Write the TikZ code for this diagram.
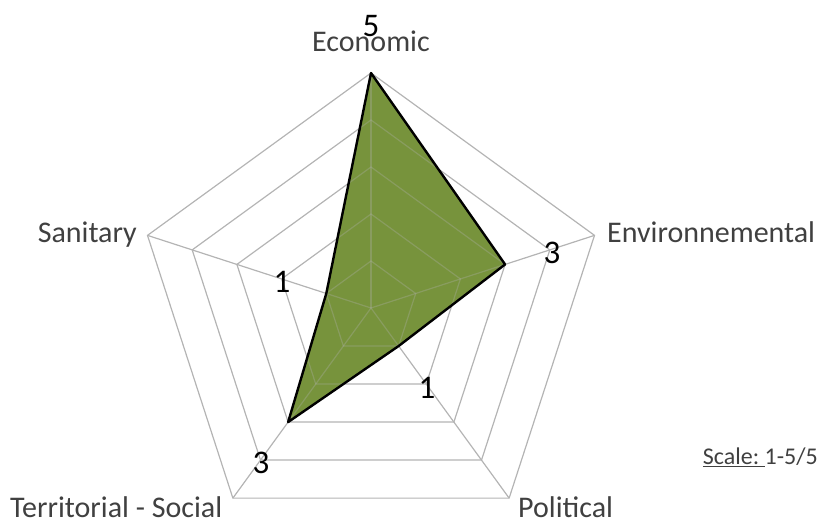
\documentclass[tikz,border=0pt]{standalone}
\usepackage{fontspec}
\setmainfont{Carlito}
\definecolor{gridgray}{HTML}{B4B4B4}
\definecolor{labelgray}{HTML}{404040}
\definecolor{olivefill}{HTML}{77933C}
\begin{document}
\begin{tikzpicture}[x=1pt,y=1pt,
  gridline/.style={draw=gridgray, line width=1.2pt},
  cat/.style={text=labelgray, font=\fontsize{30}{33}\selectfont, inner sep=0pt},
  val/.style={text=black, font=\fontsize{33}{36}\selectfont, inner sep=0pt},
  series/.style={draw=black, line width=2.4pt, line join=round}]
\useasboundingbox (0,0) rectangle (819,522);
\begin{scope}[shift={(371,214)}]
  \coordinate (O) at (0,0);
  \foreach \r in {47,94,141,188,235}
    \draw[gridline] (90:\r) -- (18:\r) -- (-54:\r) -- (-126:\r) -- (162:\r) -- cycle;
  \foreach \a in {90,18,-54,-126,162}
    \draw[gridline] (O) -- (\a:235);
  \coordinate (E) at (90:235);
  \coordinate (N) at (18:141);
  \coordinate (P) at (-54:47);
  \coordinate (T) at (-126:141);
  \coordinate (S) at (162:47);
  \fill[olivefill] (E) -- (N) -- (P) -- (T) -- (S) -- cycle;
  \begin{scope}
    \clip (E) -- (N) -- (P) -- (T) -- (S) -- cycle;
    \foreach \r in {47,94,141,188}
      \draw[gridline, draw opacity=0.3] (90:\r) -- (18:\r) -- (-54:\r) -- (-126:\r) -- (162:\r) -- cycle;
    \foreach \a in {90,18,-54,-126,162}
      \draw[gridline, draw opacity=0.3] (O) -- (\a:235);
  \end{scope}
  \draw[series] (E) -- (N) -- (P) -- (T) -- (S) -- cycle;
\end{scope}
\node[val] (v5) at (371,496) {5};
\node[cat, anchor=base] (econ) at (371,470) {Economic};
\node[cat, anchor=base west] (env) at (607,279) {Environnemental};
\node[val] (v3a) at (552,269) {3};
\node[cat, anchor=base east] (san) at (137,279) {Sanitary};
\node[val] (v1a) at (282,240) {1};
\node[val] (v1b) at (427,134) {1};
\node[val] (v3b) at (261,59) {3};
\node[cat, anchor=base west] (terr) at (10,5) {Territorial - Social};
\node[cat, anchor=base west] (pol) at (518,5) {Political};
\node[text=labelgray, font=\fontsize{24}{28}\selectfont, inner sep=0pt, anchor=base east] (scale) at (818,57) {\underline{Scale:\ }1-5/5};
\end{tikzpicture}
\end{document}
